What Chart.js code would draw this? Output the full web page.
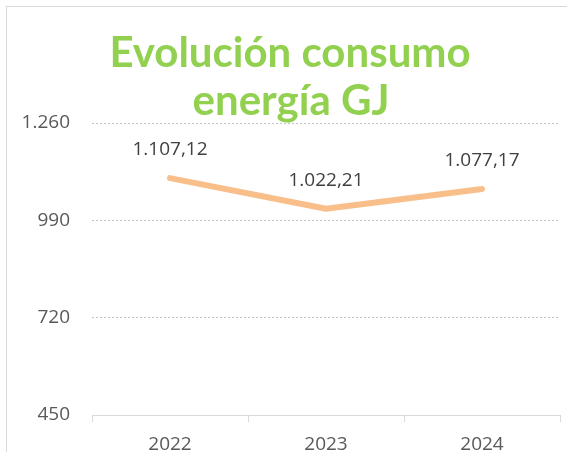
<!DOCTYPE html>
<html>
<head>
<meta charset="utf-8">
<script src="https://cdn.jsdelivr.net/npm/chart.js@4"></script>
<style>
    html, body { margin: 0; padding: 0; background: #fff; }
    #wrap { width: 567px; height: 452px; position: relative; }
</style>
</head>
<body>
<div id="wrap"><canvas id="chart"></canvas></div>
<script>
const years = ['2022', '2023', '2024']
const consumoGJ = [1107.12, 1022.21, 1077.17]
const titleLines = ['Evolución consumo', 'energía GJ']
const yTicks = [450, 720, 990, 1260]

const tickFont = { family: '"Open Sans", sans-serif', size: 19 }
const esNumber = (v, decimals) => v.toLocaleString('es-ES', {
    minimumFractionDigits: decimals, maximumFractionDigits: decimals, useGrouping: 'always'
})

// frame, title and value labels
const decorations = {
    id: 'decorations',
    beforeDraw(chart) {
        const ctx = chart.ctx
        ctx.save()
        ctx.strokeStyle = '#d9d9d9'
        ctx.lineWidth = 1
        ctx.strokeRect(6.5, 6.5, 700, 700)
        ctx.restore()
    },
    afterDatasetsDraw(chart) {
        const ctx = chart.ctx
        ctx.save()
        ctx.fillStyle = '#92D050'
        ctx.font = 'bold 42px Lato, sans-serif'
        ctx.textAlign = 'center'
        ctx.textBaseline = 'alphabetic'
        ctx.fillText(titleLines[0], 290, 67)
        ctx.fillText(titleLines[1], 291, 115)

        ctx.fillStyle = '#404040'
        ctx.font = `${tickFont.size}px ${tickFont.family}`
        const meta = chart.getDatasetMeta(0)
        meta.data.forEach((pt, i) => {
            ctx.fillText(esNumber(consumoGJ[i], 2), pt.x, pt.y - 23)
        })
        ctx.restore()
    }
}

new Chart(document.getElementById('chart'), {
    type: 'line',
    data: {
        labels: years,
        datasets: [{
            data: consumoGJ,
            borderColor: '#F8BF8B',
            borderWidth: 6,
            borderCapStyle: 'round',
            borderJoinStyle: 'round',
            pointRadius: 0,
            tension: 0,
        }]
    },
    options: {
        responsive: true,
        maintainAspectRatio: false,
        animation: false,
        layout: { padding: { top: 123, right: 7, left: 0, bottom: 0 } },
        plugins: {
            legend: { display: false },
            title: { display: false },
            tooltip: { enabled: false },
        },
        scales: {
            x: {
                offset: true,
                grid: { offset: true, drawOnChartArea: false, drawTicks: true, tickLength: 7, color: '#d9d9d9' },
                border: { display: true, color: '#d9d9d9' },
                ticks: { color: '#595959', font: tickFont, padding: 11, maxRotation: 0 },
                afterFit: scale => { scale.height = 37 },
            },
            y: {
                min: yTicks[0],
                max: yTicks[yTicks.length - 1],
                afterBuildTicks: scale => { scale.ticks = yTicks.map(v => ({ value: v })) },
                grid: { drawTicks: false, color: '#c4c4c4', lineWidth: 1 },
                border: { display: false, dash: [2, 2] },
                ticks: {
                    color: '#595959', font: tickFont, padding: 22,
                    callback: v => esNumber(v, 0)
                },
                afterFit: scale => { scale.width = 92 },
            }
        }
    },
    plugins: [decorations]
})
</script>
</body>
</html>
